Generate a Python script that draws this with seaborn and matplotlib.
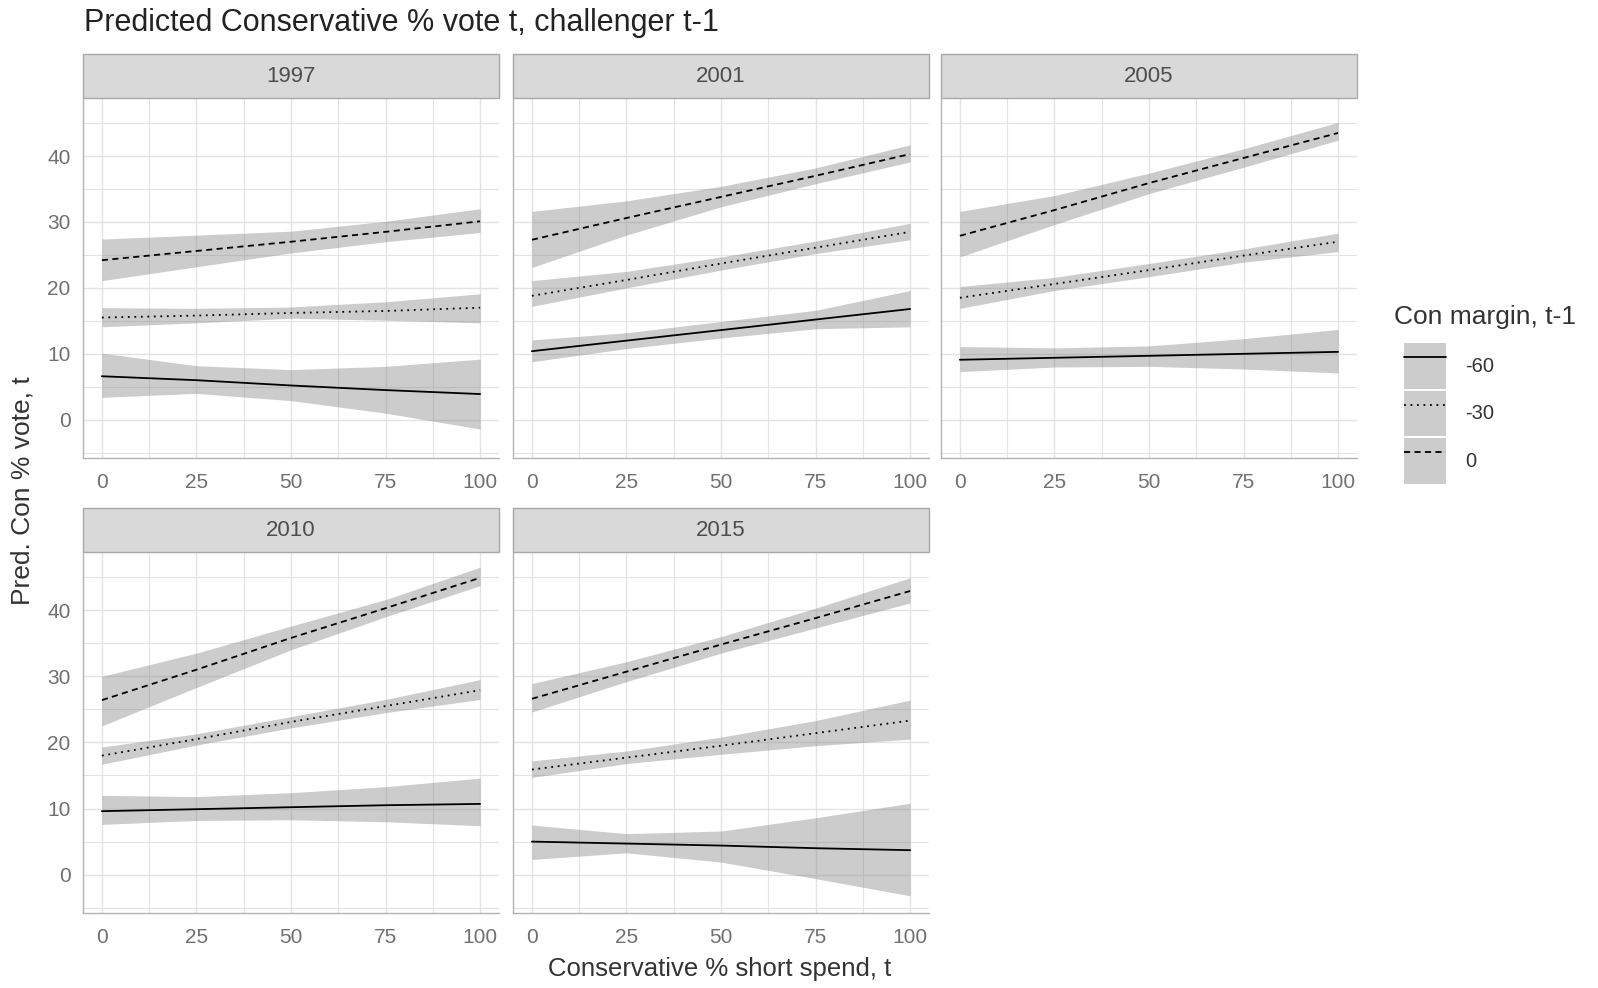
import numpy as np
import pandas as pd
import matplotlib
matplotlib.use("Agg")
import matplotlib.pyplot as plt
from matplotlib.patches import Rectangle, Patch
from matplotlib.lines import Line2D
import seaborn as sns

# ---------------- data ----------------
years = ["1997", "2001", "2005", "2010", "2015"]
margins = ["-60", "-30", "0"]
spend = [0, 25, 50, 75, 100]

est = {
    "1997": {"-60": [6.6, 6.0, 5.2, 4.5, 3.9],
             "-30": [15.5, 15.8, 16.2, 16.5, 17.0],
             "0":   [24.2, 25.6, 27.0, 28.5, 30.1]},
    "2001": {"-60": [10.4, 12.0, 13.6, 15.2, 16.8],
             "-30": [18.8, 21.2, 23.7, 26.1, 28.5],
             "0":   [27.3, 30.6, 33.8, 37.0, 40.3]},
    "2005": {"-60": [9.1, 9.4, 9.7, 10.0, 10.3],
             "-30": [18.5, 20.6, 22.7, 24.9, 27.0],
             "0":   [27.9, 31.8, 35.9, 39.7, 43.5]},
    "2010": {"-60": [9.6, 9.9, 10.2, 10.5, 10.7],
             "-30": [18.0, 20.5, 23.1, 25.5, 27.9],
             "0":   [26.4, 31.0, 35.8, 40.3, 44.9]},
    "2015": {"-60": [5.0, 4.7, 4.4, 4.0, 3.7],
             "-30": [15.9, 17.7, 19.5, 21.4, 23.3],
             "0":   [26.6, 30.7, 34.8, 38.8, 42.9]},
}
lower = {
    "1997": {"-60": [3.4, 4.0, 2.9, 1.0, -1.4],
             "-30": [14.1, 14.7, 15.4, 15.1, 14.7],
             "0":   [21.1, 23.2, 25.3, 27.0, 28.4]},
    "2001": {"-60": [8.8, 10.8, 12.4, 13.8, 14.1],
             "-30": [17.2, 20.0, 22.7, 25.2, 27.3],
             "0":   [23.1, 28.0, 32.3, 35.8, 39.1]},
    "2005": {"-60": [7.3, 8.0, 8.1, 7.7, 7.1],
             "-30": [16.9, 19.6, 21.7, 23.9, 25.5],
             "0":   [24.7, 29.6, 34.3, 38.3, 42.4]},
    "2010": {"-60": [7.6, 8.2, 8.3, 8.0, 7.4],
             "-30": [16.7, 19.6, 22.2, 24.5, 26.5],
             "0":   [22.5, 28.3, 34.0, 39.0, 43.7]},
    "2015": {"-60": [2.3, 3.3, 1.9, -0.6, -3.2],
             "-30": [14.7, 16.8, 18.2, 19.5, 20.5],
             "0":   [24.6, 29.2, 33.5, 37.3, 41.1]},
}
upper = {
    "1997": {"-60": [10.1, 8.2, 7.6, 8.1, 9.2],
             "-30": [17.0, 16.9, 17.1, 17.9, 19.1],
             "0":   [27.4, 28.0, 28.6, 30.1, 32.0]},
    "2001": {"-60": [12.1, 13.2, 14.9, 16.6, 19.6],
             "-30": [21.1, 22.5, 24.7, 27.1, 29.8],
             "0":   [31.6, 33.2, 35.4, 38.2, 41.7]},
    "2005": {"-60": [11.1, 10.9, 11.2, 12.3, 13.7],
             "-30": [20.2, 21.6, 23.7, 25.9, 28.3],
             "0":   [31.6, 34.0, 37.4, 41.1, 45.1]},
    "2010": {"-60": [12.0, 11.8, 12.4, 13.3, 14.6],
             "-30": [19.3, 21.3, 23.9, 26.5, 29.5],
             "0":   [30.0, 33.5, 37.6, 41.6, 46.5]},
    "2015": {"-60": [7.5, 6.2, 6.6, 8.6, 10.8],
             "-30": [17.2, 18.7, 20.8, 23.3, 26.4],
             "0":   [28.9, 32.2, 36.0, 40.3, 44.9]},
}

x_ticks = [0, 25, 50, 75, 100]
y_ticks = [0, 10, 20, 30, 40]

rows = []
for yr in years:
    for m in margins:
        for i, s in enumerate(spend):
            rows.append(dict(year=yr, margin=m, spend=s,
                             pred=est[yr][m][i], lo=lower[yr][m][i], hi=upper[yr][m][i]))
df = pd.DataFrame(rows)

# ---------------- styling ----------------
sns.set_theme(style="white")
plt.rcParams["font.family"] = ["Liberation Sans", "DejaVu Sans"]

W, H = 1598, 988
fig = plt.figure(figsize=(W / 100, H / 100), dpi=100)
fig.patch.set_facecolor("white")

col_x = [83, 513, 941]
panel_w = 416
row_y = [(98, 458), (552, 913)]
strip_h = 44

dash_map = {"-60": "", "-30": (1, 2.6), "0": (3.4, 2.4)}
ribbon_col = "#808080"
ribbon_alpha = 0.40
grid_col = "#E3E3E3"
tick_col = "#707070"

positions = [(0, 0), (0, 1), (0, 2), (1, 0), (1, 1)]
for yr, (r, c) in zip(years, positions):
    top, bot = row_y[r]
    left = col_x[c]
    ax = fig.add_axes([left / W, 1 - bot / H, panel_w / W, (bot - top) / H])
    sub = df[df.year == yr]
    for m in margins:
        s = sub[sub.margin == m]
        ax.fill_between(s.spend, s.lo, s.hi, color=ribbon_col, alpha=ribbon_alpha,
                        linewidth=0, zorder=2)
    sns.lineplot(data=sub, x="spend", y="pred", style="margin",
                 style_order=margins, dashes=dash_map, color="black",
                 linewidth=1.3, ax=ax, legend=False, zorder=3)
    ax.set_xlim(-5, 105)
    ax.set_ylim(-5.8, 48.8)
    ax.set_xticks(x_ticks)
    ax.set_yticks(y_ticks)
    ax.set_xticks([12.5, 37.5, 62.5, 87.5], minor=True)
    ax.set_yticks([-5, 5, 15, 25, 35, 45], minor=True)
    ax.grid(True, which="major", color=grid_col, linewidth=1.0, zorder=0)
    ax.grid(True, which="minor", color=grid_col, linewidth=0.8, zorder=0)
    ax.set_axisbelow(True)
    ax.set_xlabel("")
    ax.set_ylabel("")
    ax.tick_params(axis="both", which="both", length=0, labelsize=15,
                   labelcolor=tick_col)
    ax.tick_params(axis="x", pad=11)
    ax.tick_params(axis="y", pad=9)
    if c != 0:
        ax.set_yticklabels([])
    for sp in ["top", "right"]:
        ax.spines[sp].set_visible(False)
    for sp in ["left", "bottom"]:
        ax.spines[sp].set_visible(True)
        ax.spines[sp].set_color("#B3B3B3")
        ax.spines[sp].set_linewidth(1.0)
    # strip
    sh = strip_h / (bot - top)
    ax.add_patch(Rectangle((0, 1), 1, sh, transform=ax.transAxes, clip_on=False,
                           facecolor="#D9D9D9", edgecolor="#A8A8A8", linewidth=1.0))
    ax.text(0.5, 1 + sh / 2, yr, transform=ax.transAxes, ha="center", va="center",
            fontsize=16, color="#4D4D4D")

fig.text(84 / W, 1 - 23 / H, "Predicted Conservative % vote t, challenger t-1",
         fontsize=22, color="#222222", ha="left", va="center")
fig.text(720 / W, 1 - 969 / H, "Conservative % short spend, t",
         fontsize=18.5, color="#333333", ha="center", va="center")
fig.text(23 / W, 1 - 491 / H, "Pred. Con % vote, t", rotation=90,
         fontsize=19, color="#333333", ha="center", va="center")

# legend
fig.text(1394 / W, 1 - 317 / H, "Con margin, t-1", fontsize=19,
         color="#333333", ha="left", va="center")
handles = []
for m in margins:
    patch = Patch(facecolor=ribbon_col, alpha=ribbon_alpha, edgecolor="none")
    if dash_map[m] == "":
        ln = Line2D([], [], color="black", linewidth=1.3)
    else:
        ln = Line2D([], [], color="black", linewidth=1.3, dashes=dash_map[m])
    handles.append((patch, ln))
leg = fig.legend(handles, margins,
                 loc="upper left", bbox_to_anchor=(1404 / W, 1 - 343 / H),
                 frameon=False, fontsize=14.5,
                 handlelength=2.1, handleheight=3.1, labelspacing=0.1,
                 handletextpad=0.95, borderaxespad=0, borderpad=0)
for t in leg.get_texts():
    t.set_color("#333333")

fig.savefig("out.png", dpi=100, facecolor="white")
